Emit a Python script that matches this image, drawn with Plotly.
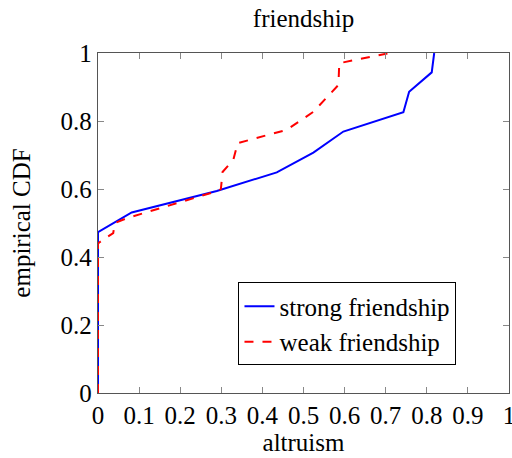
import plotly.graph_objects as go

strong_x = [0, 0, 0.082, 0.289, 0.435, 0.524, 0.597, 0.743, 0.757, 0.812, 0.818]
strong_y = [0, 0.473, 0.531, 0.594, 0.649, 0.707, 0.769, 0.826, 0.886, 0.943, 1.0]

weak_x = [0, 0, 0.017, 0.037, 0.041, 0.07, 0.293, 0.299, 0.303, 0.329, 0.340,
          0.459, 0.524, 0.585, 0.587, 0.613, 0.71]
weak_y = [0, 0.44, 0.455, 0.47, 0.5, 0.514, 0.595, 0.60, 0.65, 0.685, 0.735,
          0.774, 0.827, 0.906, 0.97, 0.976, 1.0]

x_ticks = [0, 0.1, 0.2, 0.3, 0.4, 0.5, 0.6, 0.7, 0.8, 0.9, 1]
x_ticklabels = ["0", "0.1", "0.2", "0.3", "0.4", "0.5", "0.6", "0.7", "0.8", "0.9", "1"]
y_ticks = [0, 0.2, 0.4, 0.6, 0.8, 1]
y_ticklabels = ["0", "0.2", "0.4", "0.6", "0.8", "1"]

FONT = "Liberation Serif"
FS = 25

fig = go.Figure()
fig.add_trace(go.Scatter(x=strong_x, y=strong_y, mode="lines", name="strong friendship",
                         line=dict(color="#0000ff", width=2)))
fig.add_trace(go.Scatter(x=weak_x, y=weak_y, mode="lines", name="weak friendship",
                         line=dict(color="#ff0000", width=2, dash="dash")))

axis_common = dict(showgrid=False, zeroline=False, showline=True, linecolor="#555555",
                   linewidth=1.3, mirror="allticks", ticks="inside", ticklen=6,
                   tickcolor="#888888", tickwidth=1, automargin=False,
                   ticklabeloverflow="allow",
                   tickfont=dict(family=FONT, size=FS, color="black"))

fig.update_layout(
    width=512, height=458,
    margin=dict(l=98, r=3, t=53, b=65),
    paper_bgcolor="white", plot_bgcolor="white",
    font=dict(family=FONT, size=FS, color="black"),
    title=dict(text="friendship", x=0.5, xref="paper", y=1 - 18 / 458, yref="container",
               yanchor="middle",
               font=dict(family=FONT, size=FS, color="black")),
    xaxis=dict(range=[0, 1], tickvals=x_ticks, ticktext=x_ticklabels,
               title=dict(text="altruism", font=dict(family=FONT, size=FS), standoff=4),
               **axis_common),
    yaxis=dict(range=[0, 1], tickvals=y_ticks, ticktext=y_ticklabels,
               title=dict(text="empirical CDF", font=dict(family=FONT, size=FS), standoff=22),
               **axis_common),
    legend=dict(x=0.607, y=0.203, xanchor="center", yanchor="middle",
                bordercolor="black", borderwidth=1, bgcolor="white",
                font=dict(family=FONT, size=FS), tracegroupgap=0),
    showlegend=True,
)

fig.write_html("out.html", config={"displayModeBar": False},
               post_script="document.body.style.margin='0px';")
